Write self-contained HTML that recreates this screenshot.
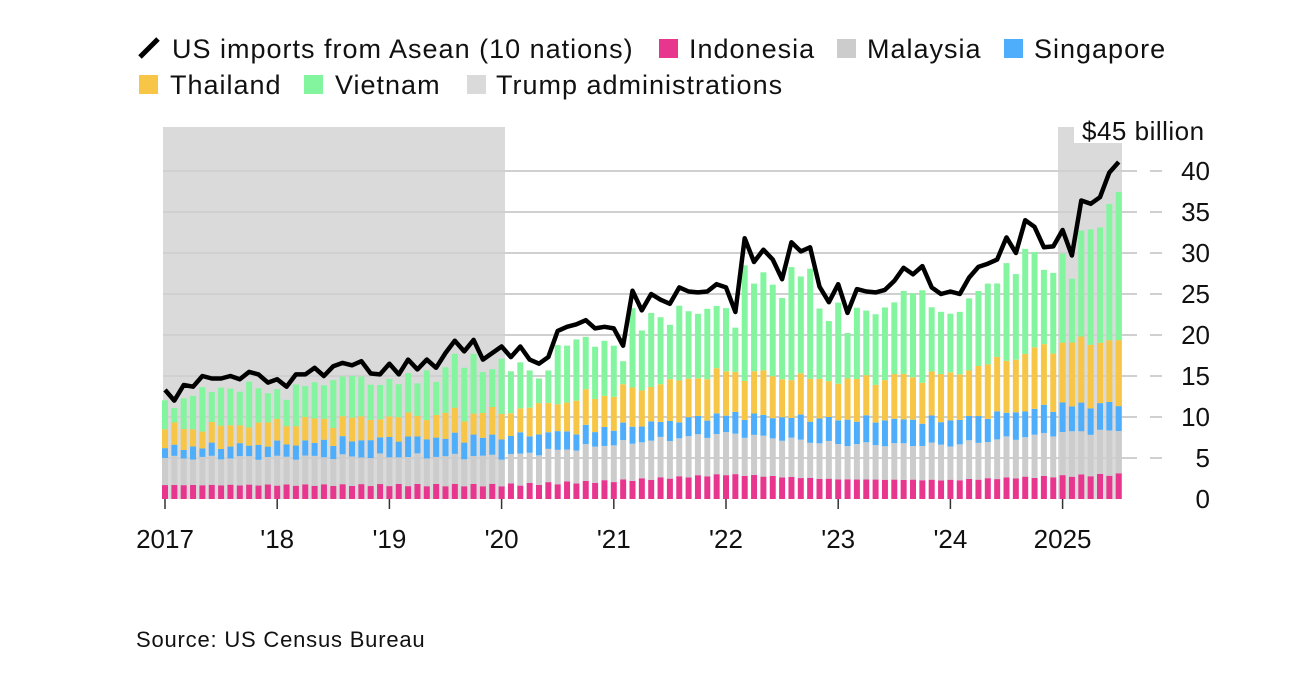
<!DOCTYPE html>
<html><head><meta charset="utf-8"><style>
body{margin:0;background:#fff;width:1316px;height:682px;overflow:hidden;font-family:"Liberation Sans",sans-serif}
svg text{font-family:"Liberation Sans",sans-serif;fill:#111}
.lg{font-size:27px;letter-spacing:1px}
</style></head><body>
<svg id="c" width="1316" height="682" xmlns="http://www.w3.org/2000/svg">
<rect x="163" y="127" width="342" height="372" fill="#dadada"/>
<rect x="1058" y="127" width="64" height="372" fill="#dadada"/>
<rect x="1074" y="112" width="140" height="31" fill="#fff"/>
<g id="grid"></g>
<g id="bars"></g>
<polyline id="ln" fill="none" stroke="#000" stroke-width="4.5" stroke-linejoin="round"/>
<g id="ticks"></g>
<text x="1082" y="140" font-size="26" letter-spacing="0.5">$45 billion</text>
<!-- legend -->
<line x1="140" y1="57" x2="158" y2="39" stroke="#000" stroke-width="5"/>
<text x="172" y="58" class="lg">US imports from Asean (10 nations)</text>
<rect x="659" y="39" width="19" height="19" fill="#e8368f"/>
<text x="689" y="58" class="lg">Indonesia</text>
<rect x="837" y="39" width="19" height="19" fill="#cccccc"/>
<text x="867" y="58" class="lg">Malaysia</text>
<rect x="1004" y="39" width="19" height="19" fill="#4eaefb"/>
<text x="1034" y="58" class="lg">Singapore</text>
<rect x="139" y="75" width="19" height="19" fill="#f7c646"/>
<text x="170" y="94" class="lg">Thailand</text>
<rect x="304" y="75" width="19" height="19" fill="#84f59f"/>
<text x="335" y="94" class="lg">Vietnam</text>
<rect x="467" y="75" width="19" height="19" fill="#dadada"/>
<text x="496" y="94" class="lg">Trump administrations</text>
<text x="136" y="647" font-size="22" letter-spacing="0.8">Source: US Census Bureau</text>
</svg>
<script>
const NS="http://www.w3.org/2000/svg";
function el(t,a,p){const e=document.createElementNS(NS,t);for(const k in a)e.setAttribute(k,a[k]);if(p)p.appendChild(e);return e;}
const Y=v=>499-v*8.2, X=i=>165+i*9.35;
const grid=document.getElementById('grid'),ticks=document.getElementById('ticks'),bars=document.getElementById('bars');
for(let v=5;v<=40;v+=5){el('line',{x1:163,y1:Y(v),x2:1137,y2:Y(v),stroke:'#d0d0d0','stroke-width':2},grid);
el('line',{x1:1150,y1:Y(v),x2:1162,y2:Y(v),stroke:'#d0d0d0','stroke-width':2},grid);}
for(let v=0;v<=40;v+=5){const t=el('text',{x:1210,y:Y(v)+9,'font-size':26,'text-anchor':'end'},ticks);t.textContent=v;}
const labs=['2017',"'18","'19","'20","'21","'22","'23","'24",'2025'];
labs.forEach((l,k)=>{const x=X(k*12);el('line',{x1:x,y1:499,x2:x,y2:509,stroke:'#333','stroke-width':1.5},ticks);
const t=el('text',{x:x,y:548,'font-size':26,'text-anchor':'middle'},ticks);t.textContent=l;});
const L=[13.3,12,13.9,13.7,15,14.7,14.7,15,14.6,15.5,15.2,14.2,
14.6,13.7,15.2,15.2,16,15,16.2,16.6,16.3,16.8,15.3,15.2,
16.5,15.2,17,15.8,17,16,17.8,19.3,18,19.4,17,17.8,
18.6,17.3,18.6,17,16.5,17.3,20.5,21,21.3,21.8,20.8,21,
20.8,18.7,25.4,23,25,24.3,23.8,25.8,25.3,25.2,25.3,26.2,
25.8,22.8,31.8,28.9,30.4,29.2,26.8,31.3,30.2,30.7,25.9,24,
26.2,22.7,25.6,25.3,25.2,25.5,26.6,28.2,27.4,28.4,25.8,25,
25.3,25,27,28.3,28.7,29.2,31.9,30,34,33.2,30.7,30.8,
32.8,29.7,36.4,36,36.8,39.8,41.1];
function interp(keys,i){const t=i/12;const k=Math.min(Math.floor(t),keys.length-2);const f=t-k;return keys[k]*(1-f)+keys[k+1]*f;}
const indo=[1.7,1.7,1.7,1.7,2.2,3.0,2.4,2.3,2.8,3.2];
const mal=[3.3,3.4,3.5,3.5,4.5,5.0,4.3,4.3,5.3,5.3];
const sin=[1.2,1.6,2.2,2.4,2.0,2.3,3.0,3.0,3.3,3.3];
const tha=[2.3,2.6,2.6,3.0,4.3,5.2,4.7,5.6,7.6,8];
let pts=[];
L.forEach((v,i)=>{
 const n=Math.sin(i*1.7)*0.5;
 const tot=v*0.905+Math.sin(i*2.3)*0.3;
 const a=interp(indo,i)+Math.sin(i*3.1)*0.15,b=interp(mal,i)+n*0.5,c=interp(sin,i)+Math.sin(i*2.7)*0.3,d=interp(tha,i)+Math.sin(i*1.3)*0.4;
 const vals=[a,b,c,d,Math.max(0,tot-a-b-c-d)],cols=['#e8368f','#cccccc','#4eaefb','#f7c646','#84f59f'];
 let acc=0;const x=X(i)-3;
 vals.forEach((h,j)=>{el('rect',{x:x,y:Y(acc+h),width:6,height:h*8.2,fill:cols[j]},bars);acc+=h;});
 pts.push(X(i).toFixed(1)+','+Y(v).toFixed(1));
});
document.getElementById('ln').setAttribute('points',pts.join(' '));
</script>
</body></html>
